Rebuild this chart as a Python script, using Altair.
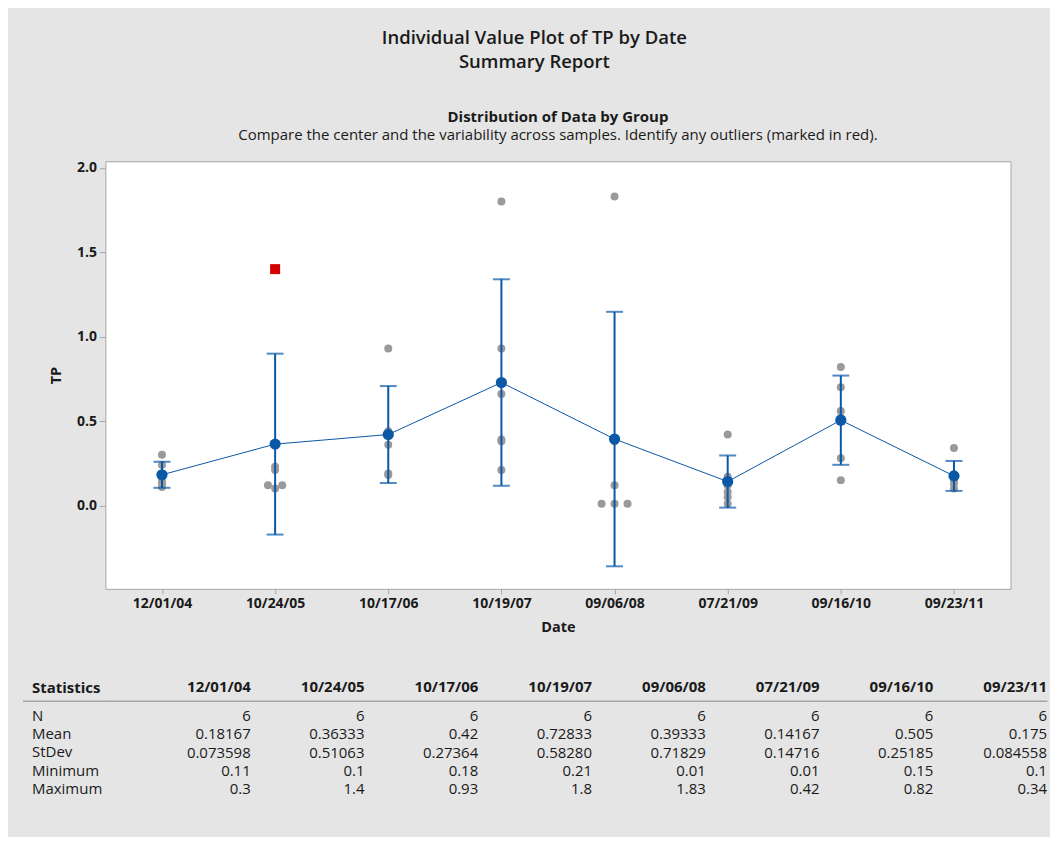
import altair as alt
import pandas as pd

FONT = "Open Sans"
BLUE = "#0a58a6"
GREY_DOT = "#9a9a9a"
RED = "#d40000"
FRAME = "#a6a6a6"
TEXT = "#1a1a1a"

dates = ["12/01/04", "10/24/05", "10/17/06", "10/19/07",
         "09/06/08", "07/21/09", "09/16/10", "09/23/11"]

# individual TP observations per sampling date (6 each)
tp_values = [
    [0.30, 0.24, 0.17, 0.14, 0.13, 0.11],
    [1.40, 0.23, 0.21, 0.12, 0.12, 0.10],
    [0.93, 0.44, 0.42, 0.36, 0.19, 0.18],
    [1.80, 0.93, 0.66, 0.39, 0.38, 0.21],
    [1.83, 0.38, 0.12, 0.01, 0.01, 0.01],
    [0.42, 0.17, 0.12, 0.08, 0.05, 0.01],
    [0.82, 0.70, 0.56, 0.52, 0.28, 0.15],
    [0.34, 0.17, 0.16, 0.15, 0.13, 0.10],
]
# side-by-side slot for coincident dots (-1 left, 0 centre, 1 right)
tp_slots = [
    [0, 0, 0, 0, 0, 0],
    [0, 0, 0, -0.55, 0.55, 0],
    [0, 0, 0, 0, 0, 0],
    [0, 0, 0, 0, 0, 0],
    [0, 0, 0, -1, 0, 1],
    [0, 0, 0, 0, 0, 0],
    [0, 0, 0, 0, 0, 0],
    [0, 0, 0, 0, 0, 0],
]
# outlier flags (marked in red)
tp_outlier = [
    [False] * 6,
    [True, False, False, False, False, False],
    [False] * 6, [False] * 6, [False] * 6,
    [False] * 6, [False] * 6, [False] * 6,
]

means = [0.18167, 0.36333, 0.42, 0.72833, 0.39333, 0.14167, 0.505, 0.175]
ci_low = [0.1044, -0.1725, 0.1328, 0.1167, -0.3605, -0.0128, 0.2407, 0.0863]
ci_high = [0.2589, 0.8992, 0.7072, 1.3399, 1.1471, 0.2961, 0.7693, 0.2637]

stat_names = ["N", "Mean", "StDev", "Minimum", "Maximum"]
n_row = ["6", "6", "6", "6", "6", "6", "6", "6"]
mean_row = ["0.18167", "0.36333", "0.42", "0.72833", "0.39333", "0.14167", "0.505", "0.175"]
stdev_row = ["0.073598", "0.51063", "0.27364", "0.58280", "0.71829", "0.14716", "0.25185", "0.084558"]
min_row = ["0.11", "0.1", "0.18", "0.21", "0.01", "0.01", "0.15", "0.1"]
max_row = ["0.3", "1.4", "0.93", "1.8", "1.83", "0.42", "0.82", "0.34"]

# ---------- tables ----------
pts = pd.DataFrame([
    {"date": d, "tp": v, "slot": s, "outlier": o}
    for d, vs, ss, os_ in zip(dates, tp_values, tp_slots, tp_outlier)
    for v, s, o in zip(vs, ss, os_)
])
summ = pd.DataFrame({"date": dates, "mean": means, "lo": ci_low, "hi": ci_high})
rows = {"N": n_row, "Mean": mean_row, "StDev": stdev_row, "Minimum": min_row, "Maximum": max_row}
tab = pd.DataFrame([
    {"stat": s, "date": d, "val": v}
    for s in stat_names for d, v in zip(dates, rows[s])
])

# ---------- plot ----------
xenc = alt.X("date:N", sort=dates,
             scale=alt.Scale(type="point", domain=dates, padding=0.5),
             axis=alt.Axis(title="Date", labelFontWeight="bold", labelFontSize=14,
                           labelColor=TEXT, labelFont=FONT, titleFont=FONT,
                           titleFontSize=14.5, titleFontWeight="bold", titleColor=TEXT,
                           tickSize=5, tickColor=FRAME, domain=False, labelPadding=3,
                           titlePadding=10, labelAngle=0))
yscale = alt.Scale(domain=[-0.494, 2.039], nice=False, zero=False)
yaxis = alt.Axis(title="TP", values=[0, 0.5, 1, 1.5, 2], format=".1f",
                 labelFontWeight="bold", labelFontSize=14, labelColor=TEXT, labelFont=FONT,
                 titleFont=FONT, titleFontSize=14.5, titleFontWeight="bold", titleColor=TEXT,
                 tickSize=6, tickColor=FRAME, domain=False, labelPadding=3,
                 titlePadding=13, grid=False)

base_pts = alt.Chart(pts)
dots = base_pts.transform_filter("!datum.outlier").mark_circle(
    size=64, color=GREY_DOT, opacity=1).encode(
    x=xenc, y=alt.Y("tp:Q", scale=yscale, axis=yaxis),
    xOffset=alt.XOffset("slot:Q", scale=alt.Scale(domain=[-1, 1], range=[-13, 13])))
outl = base_pts.transform_filter("datum.outlier").mark_square(
    size=100, color=RED, opacity=1).encode(
    x=xenc, y=alt.Y("tp:Q", scale=yscale),
    xOffset=alt.XOffset("slot:Q", scale=alt.Scale(domain=[-1, 1], range=[-13, 13])))

base_s = alt.Chart(summ)
line = base_s.mark_line(color=BLUE, strokeWidth=1).encode(x=xenc, y=alt.Y("mean:Q", scale=yscale))
bars = base_s.mark_rule(color=BLUE, strokeWidth=2).encode(
    x=xenc, y=alt.Y("lo:Q", scale=yscale), y2="hi:Q")
cap_lo = base_s.mark_tick(color=BLUE, size=17, thickness=2, orient="horizontal").encode(
    x=xenc, y=alt.Y("lo:Q", scale=yscale))
cap_hi = base_s.mark_tick(color=BLUE, size=17, thickness=2, orient="horizontal").encode(
    x=xenc, y=alt.Y("hi:Q", scale=yscale))
mean_pt = base_s.mark_circle(size=125, color=BLUE, opacity=1).encode(
    x=xenc, y=alt.Y("mean:Q", scale=yscale))

plot = alt.layer(dots, outl, line, bars, cap_lo, cap_hi, mean_pt).properties(
    width=906, height=428,
    view=alt.ViewBackground(fill="white", stroke=FRAME, strokeWidth=1),
    title=alt.TitleParams(
        text="Distribution of Data by Group",
        subtitle="Compare the center and the variability across samples. Identify any outliers (marked in red).",
        font=FONT, fontSize=15, fontWeight="bold", color=TEXT,
        subtitleFont=FONT, subtitleFontSize=15, subtitleColor=TEXT, subtitlePadding=3,
        anchor="middle", offset=18),
)

# ---------- statistics table ----------
table = alt.Chart(tab).mark_text(align="right", baseline="middle", fontSize=15,
                                 font=FONT, color=TEXT).encode(
    x=alt.X("date:N", sort=dates, bandPosition=1,
            scale=alt.Scale(type="band", domain=dates, paddingInner=0,
                            paddingOuter=0.1388, align=1),
            axis=alt.Axis(orient="top", title=None, labelFontWeight="bold",
                          labelFontSize=15, labelFont=FONT, labelColor=TEXT,
                          labelAlign="right", labelAngle=0, labelOffset=57, ticks=False,
                          domainColor=FRAME, domainWidth=1.5, labelPadding=6,
                          labelOverlap=False, labelBound=False)),
    y=alt.Y("stat:N", sort=stat_names, bandPosition=0.84,
            scale=alt.Scale(type="band", domain=stat_names, paddingInner=0, paddingOuter=0),
            axis=alt.Axis(title="Statistics", titleAngle=0, titleAlign="left",
                          titleBaseline="middle", titleX=-74, titleY=-13,
                          titleFont=FONT, titleFontSize=15, titleFontWeight="bold",
                          titleColor=TEXT, labelFont=FONT, labelFontSize=15,
                          labelColor=TEXT, labelAlign="left", labelBaseline="middle",
                          bandPosition=0, labelOffset=6, labelPadding=-9,
                          tickSize=83, tickWidth=1.5,
                          tickColor={"condition": {"test": "datum.value === 'N'", "value": FRAME},
                                     "value": "transparent"},
                          domain=False, grid=False)),
    text="val:N",
).properties(width=942.5, height=91.5,
             view=alt.ViewBackground(stroke="transparent", fill="transparent"))

chart = alt.vconcat(plot, table, spacing=112, bounds="flush").properties(
    title=alt.TitleParams(
        text=["Individual Value Plot of TP by Date", "Summary Report"],
        font=FONT, fontSize=18.5, fontWeight=600, color=TEXT, lineHeight=24,
        anchor="middle", frame="bounds", offset=38),
    background="#e5e5e5",
    padding={"left": 12.5, "right": 2.5, "top": 20, "bottom": 38},
)

chart.save("out.html", embed_options={"renderer": "svg", "actions": False})
